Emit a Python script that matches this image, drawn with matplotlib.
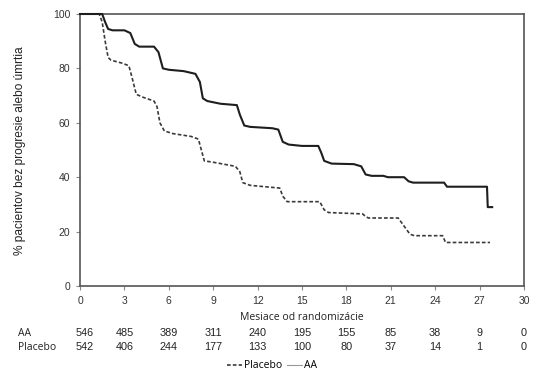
import matplotlib
matplotlib.use("Agg")
import matplotlib.pyplot as plt
from matplotlib.lines import Line2D

# Kaplan-Meier curves (months, % without progression or death)
aa_t = [0, 1.5, 1.7, 1.9, 2.2, 3.0, 3.4, 3.7, 4.0, 5.0, 5.3, 5.6, 6.0, 7.0, 7.8, 8.1, 8.3, 8.6,
        9.5, 10.6, 10.8, 11.1, 11.5, 13.0, 13.4, 13.7, 14.1, 15.0, 16.1, 16.3, 16.5, 17.0, 18.5,
        19.0, 19.3, 19.7, 20.5, 20.8, 21.9, 22.2, 22.5, 24.6, 24.8, 27.5, 27.55, 27.85]
aa_s = [100, 100, 97, 94.5, 94, 94, 93, 89, 88, 88, 86, 80, 79.5, 79, 78, 75, 69, 68,
        67, 66.5, 63, 59, 58.5, 58, 57.5, 53, 52, 51.5, 51.5, 49, 46, 45, 44.8,
        44, 41, 40.5, 40.5, 40, 40, 38.5, 38, 38, 36.5, 36.5, 29, 29]

pl_t = [0, 1.3, 1.5, 1.7, 1.9, 2.1, 2.8, 3.3, 3.5, 3.8, 4.2, 5.0, 5.2, 5.4, 5.7, 6.3, 7.5, 8.0,
        8.2, 8.4, 9.0, 10.5, 10.8, 11.0, 11.5, 12.5, 13.5, 13.7, 14.0, 16.2, 16.5, 16.8, 19.1,
        19.3, 19.5, 21.5, 21.9, 22.3, 22.6, 24.5, 24.7, 27.7]
pl_s = [100, 100, 97, 90, 84, 83, 82, 81, 77, 70.5, 69.5, 68, 66, 60, 57, 56, 55, 54,
        50, 46, 45.5, 44, 42, 38, 37, 36.5, 36, 33, 31, 31, 28, 27, 26.5,
        25.5, 25, 25, 22, 19, 18.5, 18.5, 16, 16]

# Patients at risk
risk_times = [0, 3, 6, 9, 12, 15, 18, 21, 24, 27, 30]
risk_aa = [546, 485, 389, 311, 240, 195, 155, 85, 38, 9, 0]
risk_pl = [542, 406, 244, 177, 133, 100, 80, 37, 14, 1, 0]

x_ticks = list(range(0, 31, 3))
y_ticks = [0, 20, 40, 60, 80, 100]

fig = plt.figure(figsize=(5.49, 3.78), dpi=100)
ax = fig.add_axes([80/549, 1-286/378, 444/549, 272/378])

ax.plot(pl_t, pl_s, color="#3a3a3a", lw=1.2, ls=(0, (2.2, 1.3)), clip_on=False, zorder=3)
ax.plot(aa_t, aa_s, color="#1e1e1e", lw=1.5, clip_on=False, zorder=4)

ax.set_xlim(0, 30)
ax.set_ylim(0, 100)
ax.set_xticks(x_ticks)
ax.set_yticks(y_ticks)
tickfont = "Liberation Sans"
for lab in ax.get_xticklabels() + ax.get_yticklabels():
    lab.set_fontfamily(tickfont)
    lab.set_fontsize(7.5)
    lab.set_color("#333333")
ax.tick_params(axis="both", direction="out", length=3, width=0.8, color="#888888", pad=4)
for sp in ax.spines.values():
    sp.set_color("#555555")
    sp.set_linewidth(1.2)

fig.text(20/549, 1-151/378, "% pacientov bez progresie alebo úmrtia", rotation=90,
         ha="center", va="center", fontfamily=tickfont, fontsize=8.6, color="#222222")
fig.text(302/549, 1-317/378, "Mesiace od randomizácie", ha="center", va="center",
         fontfamily="Open Sans", fontsize=7.5, color="#222222")

tblfont = "Open Sans"
numfont = "Liberation Sans"
def xpix(t):
    return (80 + t * 444/30) / 549

fig.text(18/549, 1-333/378, "AA", ha="left", va="center", fontfamily=tblfont, fontsize=7.5, color="#222222")
fig.text(18/549, 1-347/378, "Placebo", ha="left", va="center", fontfamily=tblfont, fontsize=7.5, color="#222222")
for t, a, p in zip(risk_times, risk_aa, risk_pl):
    xx = xpix(t) + (5/549 if t == 0 else 0)
    fig.text(xx, 1-333/378, str(a), ha="center", va="center", fontfamily=numfont, fontsize=7.8, color="#222222")
    fig.text(xx, 1-347/378, str(p), ha="center", va="center", fontfamily=numfont, fontsize=7.8, color="#222222")

handles = [Line2D([], [], color="#3a3a3a", lw=1.2, ls=(0, (2.2, 1.3))),
           Line2D([], [], color="#999999", lw=0.8)]
fig.legend(handles, ["Placebo", "AA"], loc="center", bbox_to_anchor=(272/549, 1-366/378),
           ncol=2, frameon=False, handlelength=1.5, handletextpad=0.2, columnspacing=0.4,
           prop={"family": tblfont, "size": 7.5})

fig.savefig("out.png", dpi=100)
